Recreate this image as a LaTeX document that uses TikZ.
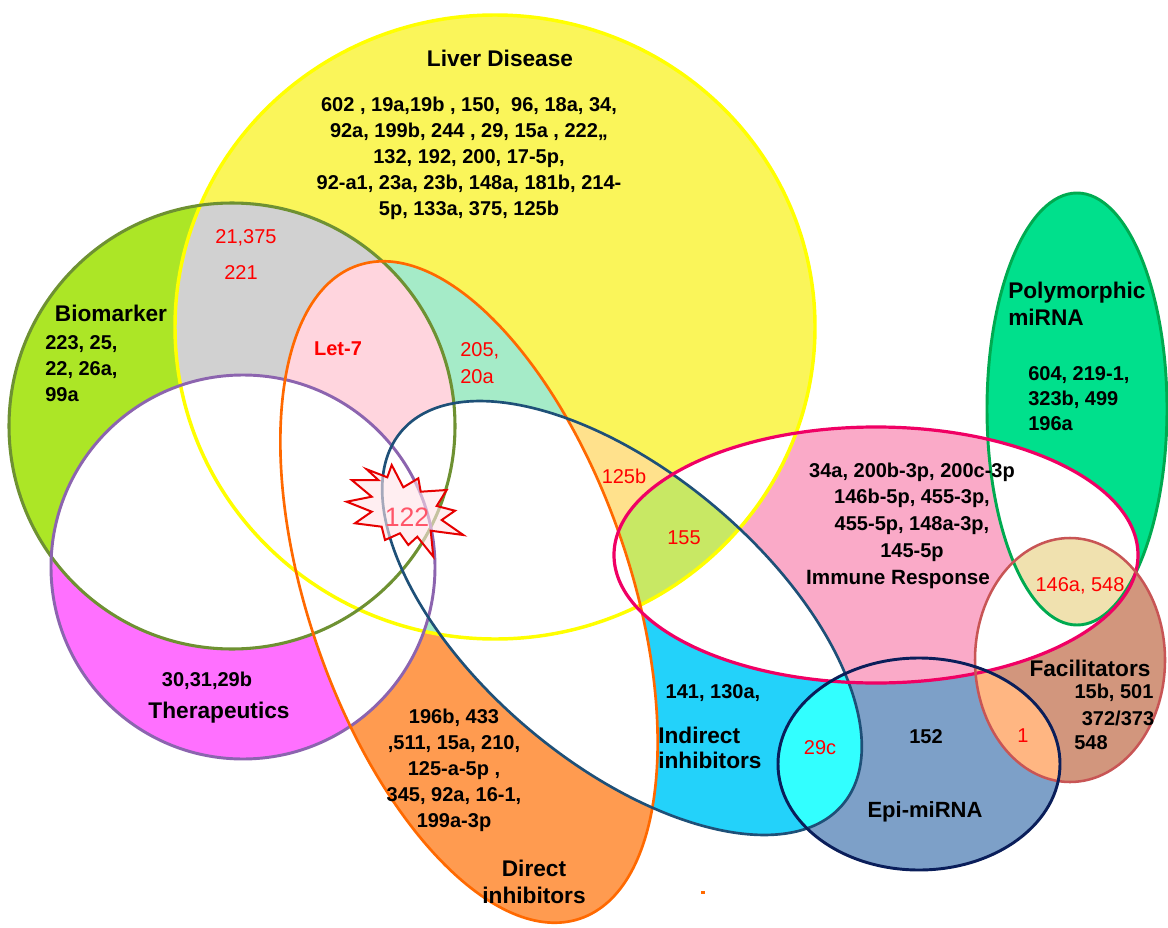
\documentclass[tikz,border=0pt]{standalone}
\usepackage{fontspec}
\setmainfont{Liberation Sans}
\usepackage{tikz}

\newcommand{\shLiver}{(495,327) ellipse [x radius=320, y radius=312]}
\newcommand{\shBio}{(232,426) circle [radius=223]}
\newcommand{\shThera}{(243,567) circle [radius=192]}
\newcommand{\shDirect}{(469,592) ellipse [x radius=345, y radius=161]}
\newcommand{\shIndirect}{(622,618) ellipse [x radius=289, y radius=145]}
\newcommand{\shImmune}{(876,555) ellipse [x radius=262, y radius=128]}
\newcommand{\shPoly}{(1077,409) ellipse [x radius=90, y radius=216]}
\newcommand{\shFac}{(1070,660) ellipse [x radius=95, y radius=122]}
\newcommand{\shEpi}{(919,764) ellipse [x radius=141, y radius=106]}

\begin{document}
\begin{tikzpicture}[x=0.75pt,y=0.75pt,yscale=-1,xscale=1,
  rotDirect/.style={rotate around={71.2:(469,592)}},
  rotIndirect/.style={rotate around={40.2:(622,618)}},
  fImmune/.style={fill={rgb, 255:red, 250; green, 170; blue, 200 }},
  lbl/.style={inner sep=0.75pt, align=center, font=\bfseries\fontsize{15}{19.5}\selectfont},
  ttl/.style={inner sep=0.75pt, align=center, font=\bfseries\fontsize{17}{20.5}\selectfont},
  hit/.style={inner sep=0.75pt, align=center, text={rgb, 255:red, 255; green, 0; blue, 0 }, font=\fontsize{15}{20}\selectfont}]
\useasboundingbox (0,0) rectangle (1168,928);
\fill [white] (0,0) rectangle (1168,928);

%Shape: Ellipse Liver Disease
\fill [fill={rgb, 255:red, 250; green, 245; blue, 90 }] \shLiver;
%Shape: Circle Biomarker
\fill [fill={rgb, 255:red, 172; green, 230; blue, 38 }] \shBio;
\begin{scope}
\clip \shBio;
\fill [fill={rgb, 255:red, 209; green, 209; blue, 209 }] \shLiver;
\end{scope}
%Shape: Circle Therapeutics
\fill [fill={rgb, 255:red, 255; green, 112; blue, 255 }] \shThera;
\begin{scope}
\clip \shThera;
\fill [white] \shBio;
\fill [white] \shLiver;
\end{scope}
%Shape: Ellipse Direct inhibitors
\fill [fill={rgb, 255:red, 255; green, 155; blue, 80 }, rotDirect] \shDirect;
\begin{scope}
\clip [rotDirect] \shDirect;
\fill [fill={rgb, 255:red, 165; green, 235; blue, 200 }] \shLiver;
\begin{scope}
\clip \shBio;
\fill [fill={rgb, 255:red, 255; green, 213; blue, 222 }] \shLiver;
\end{scope}
\fill [white] \shThera;
\end{scope}
%Shape: Ellipse Indirect inhibitors
\fill [fill={rgb, 255:red, 35; green, 210; blue, 250 }, rotIndirect] \shIndirect;
\begin{scope}
\clip [rotIndirect] \shIndirect;
\fill [fill={rgb, 255:red, 255; green, 225; blue, 140 }] \shLiver;
\fill [white, rotDirect] \shDirect;
\fill [white] \shBio;
\fill [white] \shThera;
\end{scope}
%Shape: Ellipse Polymorphic
\fill [fill={rgb, 255:red, 0; green, 224; blue, 140 }] \shPoly;
%Shape: Ellipse Immune Response
\fill [fImmune] \shImmune;
\begin{scope}
\clip \shImmune;
\fill [white] \shLiver;
\fill [white, rotIndirect] \shIndirect;
\begin{scope}
\clip [rotIndirect] \shIndirect;
\fill [fill={rgb, 255:red, 200; green, 232; blue, 100 }] \shLiver;
\end{scope}
\fill [white, rotDirect] \shDirect;
\fill [white] \shPoly;
\end{scope}
%Shape: Ellipse Facilitators
\fill [fill={rgb, 255:red, 210; green, 150; blue, 125 }] \shFac;
\begin{scope}
\clip \shFac;
\fill [white] \shImmune;
\fill [fill={rgb, 255:red, 240; green, 225; blue, 175 }] \shPoly;
\end{scope}
%Shape: Ellipse Epi-miRNA
\fill [fill={rgb, 255:red, 125; green, 160; blue, 200 }] \shEpi;
\begin{scope}
\clip \shEpi;
\fill [fImmune] \shImmune;
\fill [fill={rgb, 255:red, 50; green, 255; blue, 255 }, rotIndirect] \shIndirect;
\fill [fill={rgb, 255:red, 255; green, 182; blue, 130 }] \shFac;
\end{scope}

%Outlines
\draw [color={rgb, 255:red, 255; green, 255; blue, 0 }, line width=2.6] \shLiver;
\draw [color={rgb, 255:red, 110; green, 145; blue, 50 }, line width=2.3] \shBio;
\draw [color={rgb, 255:red, 140; green, 100; blue, 175 }, line width=2.2] \shThera;
\draw [color={rgb, 255:red, 255; green, 105; blue, 0 }, line width=2, rotDirect] \shDirect;
\draw [color={rgb, 255:red, 30; green, 80; blue, 120 }, line width=2, rotIndirect] \shIndirect;
\draw [color={rgb, 255:red, 0; green, 170; blue, 80 }, line width=2.2] \shPoly;
\draw [color={rgb, 255:red, 240; green, 0; blue, 100 }, line width=2.4] \shImmune;
\draw [color={rgb, 255:red, 200; green, 85; blue, 85 }, line width=1.9] \shFac;
\draw [color={rgb, 255:red, 10; green, 30; blue, 90 }, line width=2.2] \shEpi;

%Shape: Explosion
\draw [color={rgb, 255:red, 230; green, 0; blue, 0 }, line width=1.5, fill={rgb, 255:red, 255; green, 228; blue, 232 }, fill opacity=0.6] (346.7,501.7) -- (371.7,496.7) -- (351.7,480) -- (378.3,480) -- (366.7,469.3) -- (387.3,477.3) -- (391.7,465) -- (403.3,487.3) -- (418.3,478.3) -- (420.7,491.7) -- (446.7,490) -- (436.7,506) -- (455,510.7) -- (441.7,520) -- (463.3,535) -- (430.7,530.7) -- (433.3,556.7) -- (417.3,536.7) -- (408.3,545) -- (400,533.3) -- (385,540) -- (381.7,526.7) -- (355,523.3) -- (371.7,511.7) -- cycle;
%Shape: Dot
\fill [color={rgb, 255:red, 255; green, 105; blue, 0 }] (701,891) rectangle (705,894);

% Text Node
\draw (500,58) node [ttl] (liverHead) {Liver Disease};
% Text Node
\draw (469,158) node [lbl] (liverList) {602 , 19a,19b , 150,\ \ 96, 18a, 34,\\92a, 199b, 244 , 29, 15a , 222,,\\132, 192, 200, 17-5p,\\92-a1, 23a, 23b, 148a, 181b, 214-\\5p, 133a, 375, 125b};
% Text Node
\draw (246,238) node [hit] (grayA) {21,375};
% Text Node
\draw (241,273) node [hit] (grayB) {221};
% Text Node
\draw (111,313) node [ttl] (bioHead) {Biomarker};
% Text Node
\draw (44,369) node [lbl, anchor=west, align=left] (bioList) {223, 25,\\22, 26a,\\99a};
% Text Node
\draw (338,349) node [hit, font=\bfseries\fontsize{15}{20}\selectfont] (letSeven) {Let-7};
% Text Node
\draw (459,363) node [hit, anchor=west, align=left] (mintList) {205,\\20a};
% Text Node
\draw (407,517) node [hit, text={rgb, 255:red, 255; green, 85; blue, 105 }, font=\fontsize{20}{22}\selectfont] (burst) {122};
% Text Node
\draw (624,476) node [hit] (peachB) {125b};
% Text Node
\draw (684,538) node [hit] (limeC) {155};
% Text Node
\draw (912,512) node [lbl, font=\bfseries\fontsize{15}{20}\selectfont] (immuneList) {34a, 200b-3p, 200c-3p\\146b-5p, 455-3p,\\455-5p, 148a-3p,\\145-5p};
% Text Node
\draw (898,580) node [ttl, font=\bfseries\fontsize{15.5}{20}\selectfont] (immuneHead) {Immune Response};
% Text Node
\draw (1007,304) node [ttl, anchor=west, align=left] (polyHead) {Polymorphic\\miRNA};
% Text Node
\draw (1027,399) node [lbl, anchor=west, align=left, font=\bfseries\fontsize{15}{18.8}\selectfont] (polyList) {604, 219-1,\\323b, 499\\196a};
% Text Node
\draw (1080,586) node [hit] (beigeD) {146a, 548};
% Text Node
\draw (1090,668) node [ttl] (facHead) {Facilitators};
% Text Node
\draw (1114,693) node [lbl] (facA) {15b, 501};
% Text Node
\draw (1118,718) node [lbl] (facB) {372/373};
% Text Node
\draw (1091,743) node [lbl] (facC) {548};
% Text Node
\draw (1023,736) node [hit] (peachE) {1};
% Text Node
\draw (926,737) node [lbl] (epiNum) {152};
% Text Node
\draw (820,748) node [hit] (cyanF) {29c};
% Text Node
\draw (925,812) node [ttl, font=\bfseries\fontsize{16.5}{20}\selectfont] (epiHead) {Epi-miRNA};
% Text Node
\draw (713,693) node [lbl] (indNum) {141, 130a,};
% Text Node
\draw (657,748) node [ttl, anchor=west, align=left, font=\bfseries\fontsize{17}{19}\selectfont] (indHead) {Indirect\\inhibitors};
% Text Node
\draw (207,681) node [lbl] (theraNum) {30,31,29b};
% Text Node
\draw (219,713) node [ttl] (theraHead) {Therapeutics};
% Text Node
\draw (454,770) node [lbl] (dirList) {196b, 433\\,511, 15a, 210,\\125-a-5p ,\\345, 92a, 16-1,\\199a-3p};
% Text Node
\draw (534,882) node [ttl] (dirHead) {Direct\\inhibitors};
\end{tikzpicture}
\end{document}
